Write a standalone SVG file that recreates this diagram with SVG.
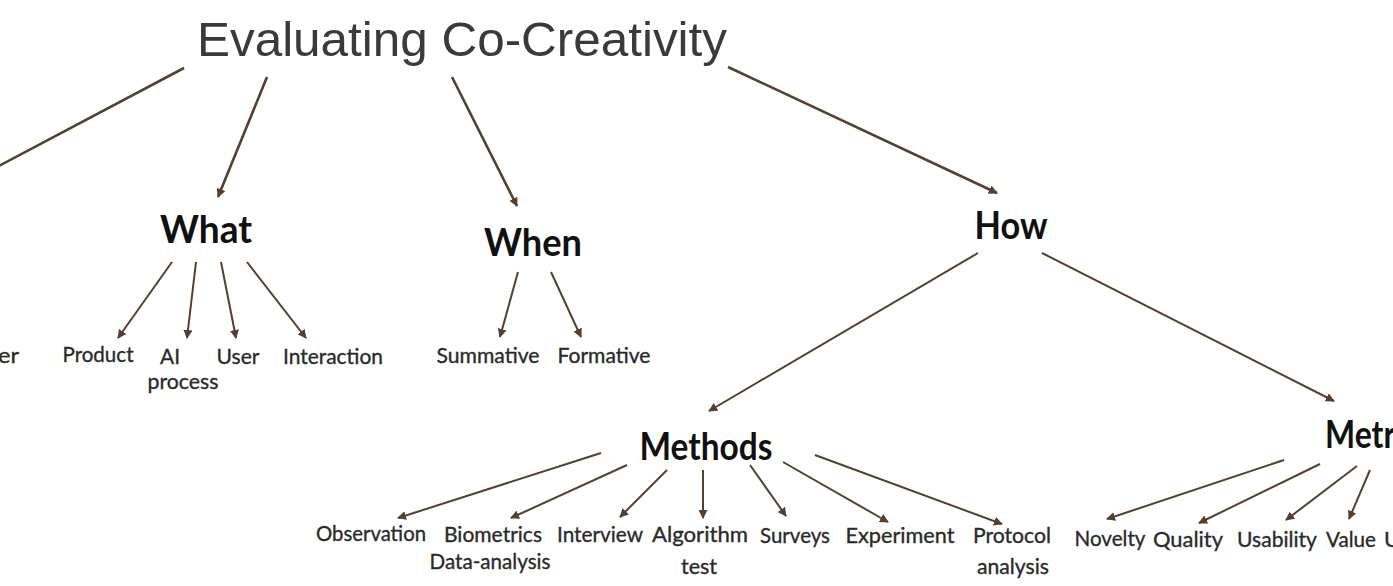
<svg xmlns="http://www.w3.org/2000/svg" width="1393" height="586" viewBox="0 0 1393 586">
<defs>
<marker id="ah" viewBox="0 0 10 10" refX="9" refY="5" markerWidth="9" markerHeight="9" markerUnits="userSpaceOnUse" orient="auto">
<path d="M0,0 L10,5 L0,10 Z" fill="#55402f"/>
</marker>
<style>
.title{font-family:"Liberation Sans",Arial,sans-serif;font-size:49px;fill:#3a3a3a}
.h{font-family:Lato,"Open Sans",sans-serif;font-weight:bold;fill:#111;text-anchor:middle}
.l{font-family:Lato,"Open Sans",sans-serif;font-size:22px;fill:#2a2a2a;stroke:#2a2a2a;stroke-width:0.35;text-anchor:middle}
.c line{stroke:#55402f;stroke-width:2;marker-end:url(#ah)}
.c line.t{stroke-width:2.6}
.c line.n{marker-end:none}
</style>
</defs>
<rect width="1393" height="586" fill="#fff"/>
<g id="title"><text class="title" x="197" y="56" textLength="530" lengthAdjust="spacingAndGlyphs">Evaluating Co-Creativity</text></g>
<g id="what"><text class="h" x="206" y="243" font-size="38" textLength="92" lengthAdjust="spacingAndGlyphs">What</text></g>
<g id="when"><text class="h" x="533" y="256" font-size="38" textLength="98" lengthAdjust="spacingAndGlyphs">When</text></g>
<g id="how"><text class="h" x="1011" y="239" font-size="38" textLength="73" lengthAdjust="spacingAndGlyphs">How</text></g>
<g id="methods"><text class="h" x="706" y="460" font-size="38" textLength="133" lengthAdjust="spacingAndGlyphs">Methods</text></g>
<g id="metrics"><text class="h" x="1325" y="448" font-size="38" style="text-anchor:start" textLength="108" lengthAdjust="spacingAndGlyphs">Metrics</text></g>
<g id="who-child"><text class="l" x="19" y="363" style="text-anchor:end" textLength="21" lengthAdjust="spacingAndGlyphs">er</text></g>
<g id="product"><text class="l" x="98" y="362" textLength="71" lengthAdjust="spacingAndGlyphs">Product</text></g>
<g id="aiprocess"><text class="l" x="170" y="364" textLength="20" lengthAdjust="spacingAndGlyphs">AI</text><text class="l" x="183" y="389" textLength="71" lengthAdjust="spacingAndGlyphs">process</text></g>
<g id="user"><text class="l" x="238" y="364" textLength="43" lengthAdjust="spacingAndGlyphs">User</text></g>
<g id="interaction"><text class="l" x="333" y="364" textLength="100" lengthAdjust="spacingAndGlyphs">Interaction</text></g>
<g id="summative"><text class="l" x="488" y="363" textLength="103" lengthAdjust="spacingAndGlyphs">Summative</text></g>
<g id="formative"><text class="l" x="604" y="363" textLength="93" lengthAdjust="spacingAndGlyphs">Formative</text></g>
<g id="observation"><text class="l" x="371" y="541" textLength="110" lengthAdjust="spacingAndGlyphs">Observation</text></g>
<g id="biometrics"><text class="l" x="493" y="542" textLength="98" lengthAdjust="spacingAndGlyphs">Biometrics</text><text class="l" x="490" y="569" textLength="121" lengthAdjust="spacingAndGlyphs">Data-analysis</text></g>
<g id="interview"><text class="l" x="600" y="542" textLength="86" lengthAdjust="spacingAndGlyphs">Interview</text></g>
<g id="algorithm"><text class="l" x="700" y="542" textLength="96" lengthAdjust="spacingAndGlyphs">Algorithm</text><text class="l" x="699" y="574" textLength="36" lengthAdjust="spacingAndGlyphs">test</text></g>
<g id="surveys"><text class="l" x="795" y="543" textLength="70" lengthAdjust="spacingAndGlyphs">Surveys</text></g>
<g id="experiment"><text class="l" x="900" y="543" textLength="109" lengthAdjust="spacingAndGlyphs">Experiment</text></g>
<g id="protocol"><text class="l" x="1012" y="543" textLength="78" lengthAdjust="spacingAndGlyphs">Protocol</text><text class="l" x="1013" y="574" textLength="72" lengthAdjust="spacingAndGlyphs">analysis</text></g>
<g id="novelty"><text class="l" x="1110" y="546" textLength="71" lengthAdjust="spacingAndGlyphs">Novelty</text></g>
<g id="quality"><text class="l" x="1188" y="547" textLength="70" lengthAdjust="spacingAndGlyphs">Quality</text></g>
<g id="usability"><text class="l" x="1277" y="547" textLength="80" lengthAdjust="spacingAndGlyphs">Usability</text></g>
<g id="value"><text class="l" x="1351" y="547" textLength="50" lengthAdjust="spacingAndGlyphs">Value</text></g>
<g id="u-child"><text class="l" x="1384" y="547" style="text-anchor:start">U</text></g>
<g id="connectors" class="c">
<line class="t n" x1="184" y1="68" x2="-5" y2="168"/>
<line class="t" x1="267" y1="77" x2="218" y2="197"/>
<line class="t" x1="452" y1="77" x2="517" y2="206"/>
<line class="t" x1="728" y1="67" x2="997" y2="193"/>
<line x1="172" y1="262" x2="118" y2="338"/>
<line x1="196" y1="262" x2="187" y2="338"/>
<line x1="221" y1="262" x2="236" y2="338"/>
<line x1="247" y1="262" x2="306" y2="338"/>
<line x1="518" y1="272" x2="500" y2="337"/>
<line x1="551" y1="272" x2="581" y2="337"/>
<line x1="978" y1="253" x2="709" y2="411"/>
<line x1="1042" y1="253" x2="1334" y2="401"/>
<line x1="601" y1="453" x2="398" y2="518"/>
<line x1="627" y1="465" x2="511" y2="518"/>
<line x1="667" y1="470" x2="620" y2="517"/>
<line x1="703" y1="470" x2="703" y2="518"/>
<line x1="750" y1="465" x2="786" y2="516"/>
<line x1="783" y1="462" x2="888" y2="522"/>
<line x1="815" y1="455" x2="1002" y2="524"/>
<line x1="1284" y1="460" x2="1107" y2="519"/>
<line x1="1320" y1="464" x2="1199" y2="523"/>
<line x1="1357" y1="466" x2="1286" y2="520"/>
<line x1="1370" y1="470" x2="1349" y2="519"/>
</g>
</svg>
